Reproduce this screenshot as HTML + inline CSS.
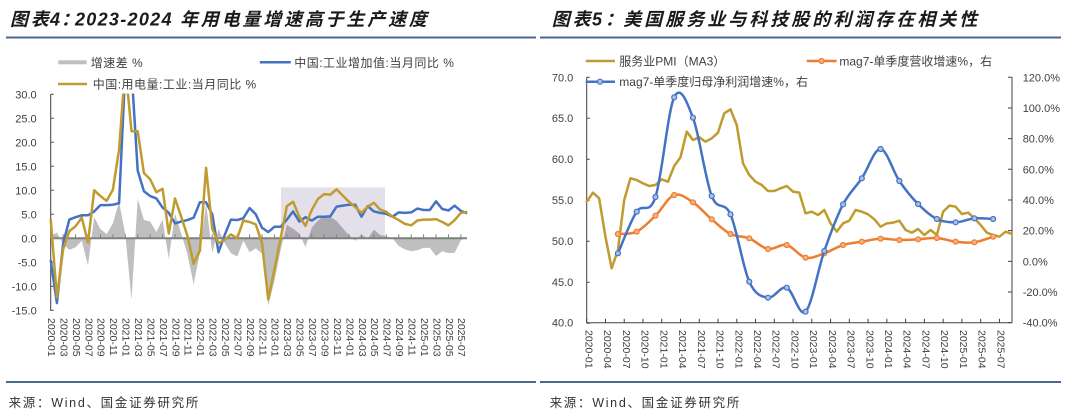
<!DOCTYPE html>
<html><head><meta charset="utf-8"><style>
html,body{margin:0;padding:0;background:#fff;overflow:hidden}
svg{display:block}
.t{font-family:"Liberation Sans","Noto Sans CJK SC",sans-serif;font-weight:bold;font-style:italic;font-size:18px;fill:#1a1a1a}
.lg{font-family:"Liberation Sans","Noto Sans CJK SC",sans-serif;font-size:12px;fill:#404040}
.ax{font-family:"Liberation Sans",sans-serif;font-size:11px;fill:#404040}
.xl{font-family:"Liberation Sans",sans-serif;font-size:10.5px;fill:#404040}
.src{font-family:"Liberation Sans","Noto Sans CJK SC",sans-serif;font-size:12.5px;fill:#333;letter-spacing:1.7px}
</style></head><body>
<svg width="1080" height="417" viewBox="0 0 1080 417" xmlns="http://www.w3.org/2000/svg">
<rect width="1080" height="417" fill="#fff"/>
<defs>
<clipPath id="cl"><rect x="45" y="93.5" width="430" height="225"/></clipPath>
</defs>

<!-- Titles -->
<text class="t" y="25.5"><tspan x="10" letter-spacing="2.8">图表</tspan><tspan x="50">4</tspan><tspan x="61">：</tspan><tspan x="75" letter-spacing="1.3">2023-2024</tspan><tspan x="180" letter-spacing="2.8">年用电量增速高于生产速度</tspan></text>
<text class="t" y="25.5"><tspan x="551.7" letter-spacing="2.8">图表</tspan><tspan x="592">5</tspan><tspan x="605">：</tspan><tspan x="623.3" letter-spacing="3">美国服务业与科技股的利润存在相关性</tspan></text>
<line x1="6" y1="37.5" x2="536" y2="37.5" stroke="#4d6a8e" stroke-width="2"/>
<line x1="540" y1="37.5" x2="1061" y2="37.5" stroke="#4d6a8e" stroke-width="2"/>
<line x1="6" y1="382" x2="536" y2="382" stroke="#4d6a8e" stroke-width="2"/>
<line x1="540" y1="382" x2="1061" y2="382" stroke="#4d6a8e" stroke-width="2"/>

<!-- LEFT CHART legend -->
<rect x="58.3" y="60.3" width="28.4" height="4" fill="#bfbfbf"/>
<text class="lg" x="90.7" y="67" letter-spacing="0.5">增速差 %</text>
<line x1="259.8" y1="62.3" x2="290.8" y2="62.3" stroke="#4472c4" stroke-width="2.5"/>
<text class="lg" x="294.2" y="67" letter-spacing="0.5">中国:工业增加值:当月同比 %</text>
<line x1="58" y1="84" x2="87" y2="84" stroke="#bf9b30" stroke-width="2.5"/>
<text class="lg" x="92.7" y="88.5" letter-spacing="0.5">中国:用电量:工业:当月同比 %</text>

<!-- LEFT CHART y labels -->
<g class="ax" text-anchor="end">
<text x="36.7" y="98.3">30.0</text>
<text x="36.7" y="122.3">25.0</text>
<text x="36.7" y="146.3">20.0</text>
<text x="36.7" y="170.3">15.0</text>
<text x="36.7" y="194.3">10.0</text>
<text x="36.7" y="218.3">5.0</text>
<text x="36.7" y="242.3">0.0</text>
<text x="36.7" y="266.3">-5.0</text>
<text x="36.7" y="290.3">-10.0</text>
<text x="36.7" y="314.3">-15.0</text>
</g>
<line x1="50.7" y1="94.3" x2="50.7" y2="310.8" stroke="#404040" stroke-width="1"/>
<line x1="52.2" y1="93.8" x2="52.2" y2="311" stroke="#404040" stroke-width="3" stroke-dasharray="1,23"/>

<!-- gray area -->
<g transform="translate(50.7,238.3) scale(6.215,-4.8)">
<polygon fill="#bfbfbf" points="0,0 0,0.5 1,1.2 2,-1.2 3,-2.4 4,-1.9 5,-0.5 6,-5.7 7,4.4 8,1.9 9,0.9 10,3.1 11,7.6 12,0.9 13,-12.8 14,8.2 15,3.8 16,3.5 17,1.3 18,3.9 19,-4.3 20,5.2 21,1 22,-3.3 23,-9.6 24,-3 25,7.2 26,-3 27,1.9 28,-1 29,-3.1 30,-3.8 31,-0.5 32,-2.9 33,-2.1 34,-3.2 35,-14 36,-8.9 37,-2.4 38,2.8 39,2 40,1 41,-1.8 42,2.2 43,3.7 44,4.7 45,4.5 46,3.6 47,2.1 48,0.6 49,-0.5 50,0.8 51,-0.1 52,1.8 53,0.7 54,0.4 55,0 56,-1.6 57,-2.3 58,-2.7 59,-2.5 60,-2 61,-2 62,-3.7 63,-2.7 64,-3.1 65,-3 66,-0.4 67,0.3 67,0"/>
</g>
<rect x="281" y="187.3" width="104" height="51" fill="#e4e0ea" style="mix-blend-mode:multiply"/>
<!-- zero axis -->
<line x1="50.7" y1="238.3" x2="467" y2="238.3" stroke="#808080" stroke-width="2"/>
<line x1="50.2" y1="236.3" x2="468" y2="236.3" stroke="#808080" stroke-width="4" stroke-dasharray="1,11.43"/>

<!-- lines -->
<g clip-path="url(#cl)">
<g transform="translate(50.7,238.3) scale(6.215,-4.8)">
<polyline fill="none" stroke="#4472c4" stroke-width="2.5" vector-effect="non-scaling-stroke" stroke-linejoin="round" points="0,-4.5 1,-13.5 2,-1.1 3,3.9 4,4.4 5,4.8 6,4.8 7,5.6 8,6.9 9,6.9 10,7 11,7.3 12,35.1 13,35.1 14,14.1 15,9.8 16,8.8 17,8.3 18,6.4 19,5.3 20,3.1 21,3.5 22,3.8 23,4.3 24,7.5 25,7.5 26,5 27,-2.9 28,0.7 29,3.9 30,3.8 31,4.2 32,6.3 33,5 34,2.2 35,1.3 36,2.4 37,2.4 38,3.9 39,5.6 40,3.5 41,4.4 42,3.7 43,4.5 44,4.5 45,4.6 46,6.6 47,6.8 48,7 49,7 50,4.5 51,6.7 52,5.6 53,5.3 54,5.1 55,4.5 56,5.4 57,5.3 58,5.4 59,6.2 60,5.9 61,5.9 62,7.7 63,6.1 64,5.8 65,6.8 66,5.7 67,5.2"/>
<polyline fill="none" stroke="#bf9b30" stroke-width="2.5" vector-effect="non-scaling-stroke" stroke-linejoin="round" points="0,4 1,-12.3 2,-2.3 3,1.5 4,2.5 5,4.3 6,-0.9 7,10 8,8.8 9,7.8 10,10.1 11,18.4 12,36 13,22.3 14,22.3 15,13.6 16,12.3 17,9.6 18,10.3 19,1 20,8.3 21,4.5 22,0.5 23,-5.3 24,-2.6 25,14.7 26,2 27,-1 28,-0.3 29,0.8 30,0 31,3.7 32,3.4 33,2.9 34,-1 35,-12.7 36,-6.5 37,0 38,6.7 39,7.6 40,4.5 41,2.6 42,5.9 43,8.2 44,9.2 45,9.1 46,10.2 47,8.9 48,7.6 49,6.5 50,5.3 51,6.6 52,7.4 53,6 54,5.5 55,4.5 56,3.8 57,3 58,2.7 59,3.7 60,3.9 61,3.9 62,4 63,3.4 64,2.7 65,3.8 66,5.3 67,5.5"/>
</g>
</g>

<!-- LEFT x labels -->
<g class="xl">
<text transform="translate(48,318) rotate(90)">2020-01</text>
<text transform="translate(60.4,318) rotate(90)">2020-03</text>
<text transform="translate(72.9,318) rotate(90)">2020-05</text>
<text transform="translate(85.3,318) rotate(90)">2020-07</text>
<text transform="translate(97.7,318) rotate(90)">2020-09</text>
<text transform="translate(110.2,318) rotate(90)">2020-11</text>
<text transform="translate(122.6,318) rotate(90)">2021-01</text>
<text transform="translate(135,318) rotate(90)">2021-03</text>
<text transform="translate(147.4,318) rotate(90)">2021-05</text>
<text transform="translate(159.9,318) rotate(90)">2021-07</text>
<text transform="translate(172.3,318) rotate(90)">2021-09</text>
<text transform="translate(184.7,318) rotate(90)">2021-11</text>
<text transform="translate(197.2,318) rotate(90)">2022-01</text>
<text transform="translate(209.6,318) rotate(90)">2022-03</text>
<text transform="translate(222,318) rotate(90)">2022-05</text>
<text transform="translate(234.5,318) rotate(90)">2022-07</text>
<text transform="translate(246.9,318) rotate(90)">2022-09</text>
<text transform="translate(259.3,318) rotate(90)">2022-11</text>
<text transform="translate(271.7,318) rotate(90)">2023-01</text>
<text transform="translate(284.2,318) rotate(90)">2023-03</text>
<text transform="translate(296.6,318) rotate(90)">2023-05</text>
<text transform="translate(309,318) rotate(90)">2023-07</text>
<text transform="translate(321.5,318) rotate(90)">2023-09</text>
<text transform="translate(333.9,318) rotate(90)">2023-11</text>
<text transform="translate(346.3,318) rotate(90)">2024-01</text>
<text transform="translate(358.8,318) rotate(90)">2024-03</text>
<text transform="translate(371.2,318) rotate(90)">2024-05</text>
<text transform="translate(383.6,318) rotate(90)">2024-07</text>
<text transform="translate(396,318) rotate(90)">2024-09</text>
<text transform="translate(408.5,318) rotate(90)">2024-11</text>
<text transform="translate(420.9,318) rotate(90)">2025-01</text>
<text transform="translate(433.3,318) rotate(90)">2025-03</text>
<text transform="translate(445.8,318) rotate(90)">2025-05</text>
<text transform="translate(458.2,318) rotate(90)">2025-07</text>
</g>

<!-- RIGHT CHART legend -->
<line x1="585.7" y1="61" x2="615" y2="61" stroke="#bf9b30" stroke-width="2.5"/>
<text class="lg" x="619.3" y="65.5">服务业PMI（MA3）</text>
<line x1="806.7" y1="61" x2="836.6" y2="61" stroke="#ed7d31" stroke-width="2.5"/>
<circle cx="821.6" cy="61" r="2.5" fill="#f4b183" stroke="#ed7d31" stroke-width="1.2"/>
<text class="lg" x="839.4" y="65.5">mag7-单季度营收增速%，右</text>

<!-- RIGHT CHART axes -->
<g class="ax" text-anchor="end">
<text x="573.3" y="81.3">70.0</text>
<text x="573.3" y="122.2">65.0</text>
<text x="573.3" y="163.1">60.0</text>
<text x="573.3" y="204">55.0</text>
<text x="573.3" y="244.9">50.0</text>
<text x="573.3" y="285.8">45.0</text>
<text x="573.3" y="326.7">40.0</text>
</g>
<g class="ax">
<text x="1022.7" y="81.3">120.0%</text>
<text x="1022.7" y="112">100.0%</text>
<text x="1022.7" y="142.6">80.0%</text>
<text x="1022.7" y="173.3">60.0%</text>
<text x="1022.7" y="204">40.0%</text>
<text x="1022.7" y="234.7">20.0%</text>
<text x="1022.7" y="265.3">0.0%</text>
<text x="1022.7" y="296">-20.0%</text>
<text x="1022.7" y="326.7">-40.0%</text>
</g>
<line x1="586.7" y1="77.3" x2="586.7" y2="322.7" stroke="#404040" stroke-width="1"/>
<line x1="1012" y1="77.3" x2="1012" y2="322.7" stroke="#404040" stroke-width="1"/>
<line x1="586.7" y1="322.7" x2="1012" y2="322.7" stroke="#404040" stroke-width="1"/>
<line x1="588.2" y1="76.8" x2="588.2" y2="324" stroke="#404040" stroke-width="3" stroke-dasharray="1,40"/>
<line x1="1010" y1="76.8" x2="1010" y2="324" stroke="#404040" stroke-width="4" stroke-dasharray="1,29.67"/>
<line x1="586.2" y1="320.7" x2="1001" y2="320.7" stroke="#404040" stroke-width="4" stroke-dasharray="1,17.76"/>

<!-- RIGHT CHART series (zoomed coords) -->
<g transform="translate(540,60) scale(0.333333)">
<polyline fill="none" stroke="#bf9b30" stroke-width="7.5" stroke-linejoin="round" stroke-linecap="round" points="140,425 158.8,398 177.5,415 196.3,530 215,625 233.8,570 252.6,420 271.3,355 290.1,360 308.8,370 327.6,378 346.4,375 365.1,358 383.9,365 402.6,318 421.4,292 440.2,215 458.9,240 477.7,232 496.4,245 515.2,235 534,218 552.7,160 571.5,148 590.2,195 609,310 627.8,345 646.5,365 665.3,375 684,393 702.8,393 721.6,385 740.3,378 759.1,395 777.8,398 796.6,460 815.4,455 834.1,465 852.9,450 871.6,490 890.4,515 909.2,490 927.9,482 946.7,450 965.4,455 984.2,463 1003,478 1021.7,500 1040.5,490 1059.2,488 1078,482 1096.8,510 1115.5,518 1134.3,507 1153,525 1171.8,510 1190.6,525 1209.3,455 1228.1,437 1246.8,440 1265.6,462 1284.4,458 1303.1,475 1321.9,495 1340.6,518 1359.4,525 1378.2,530 1396.9,515 1415.7,522"/>
<path fill="none" stroke="#ed7d31" stroke-width="7.5" d="M233.8,522 C243.2,520.8 271.3,524.2 290.1,515 S327.6,485.3 346.4,467 S383.8,411.7 402.6,405 S440.1,414.8 458.9,427 S496.4,462.2 515.2,478 S552.7,512.5 571.5,522 S609,527.5 627.8,535 S665.2,563.7 684,567 S721.5,550.7 740.3,555 S777.8,588.8 796.6,593 S834.1,586.3 852.9,580 S890.4,560.8 909.2,555 S946.6,548.2 965.4,545 S1002.9,536.8 1021.7,536 S1059.2,539.7 1078,540 S1115.5,539 1134.3,538 S1171.8,532.8 1190.6,534 S1228,542.8 1246.8,545 S1284.3,549.5 1303.1,547 S1350,532.8 1359.4,530"/>
<g fill="#f4b183" stroke="#ed7d31" stroke-width="3.6">
<circle cx="233.8" cy="522" r="7.5"/><circle cx="290.1" cy="515" r="7.5"/><circle cx="346.4" cy="467" r="7.5"/><circle cx="402.6" cy="405" r="7.5"/><circle cx="458.9" cy="427" r="7.5"/><circle cx="515.2" cy="478" r="7.5"/><circle cx="571.5" cy="522" r="7.5"/><circle cx="627.8" cy="535" r="7.5"/><circle cx="684" cy="567" r="7.5"/><circle cx="740.3" cy="555" r="7.5"/><circle cx="796.6" cy="593" r="7.5"/><circle cx="852.9" cy="580" r="7.5"/><circle cx="909.2" cy="555" r="7.5"/><circle cx="965.4" cy="545" r="7.5"/><circle cx="1021.7" cy="536" r="7.5"/><circle cx="1078" cy="540" r="7.5"/><circle cx="1134.3" cy="538" r="7.5"/><circle cx="1190.6" cy="534" r="7.5"/><circle cx="1246.8" cy="545" r="7.5"/><circle cx="1303.1" cy="547" r="7.5"/><circle cx="1359.4" cy="530" r="7.5"/>
</g>
<path fill="none" stroke="#4472c4" stroke-width="7.5" d="M233.8,580 C243.2,559.2 271.3,483.2 290.1,455 S327.6,468.2 346.4,411 S383.8,151.7 402.6,112 S440.1,123.7 458.9,173 S496.4,359.7 515.2,408 S552.7,420.2 571.5,463 S609,623.3 627.8,665 S665.2,710 684,713 S721.5,676 740.3,683 S777.8,773.3 796.6,755 S834.1,626.7 852.9,573 S890.4,469.3 909.2,433 S946.6,382.7 965.4,355 S1002.9,265.7 1021.7,267 S1059.2,335.5 1078,363 S1115.5,413 1134.3,432 S1171.8,467.8 1190.6,477 S1228,487.3 1246.8,487 S1284.3,476.7 1303.1,475 S1350,476.7 1359.4,477"/>
<g fill="#a9c0ea" stroke="#4472c4" stroke-width="3.6">
<circle cx="233.8" cy="580" r="7.5"/><circle cx="290.1" cy="455" r="7.5"/><circle cx="346.4" cy="411" r="7.5"/><circle cx="402.6" cy="112" r="7.5"/><circle cx="458.9" cy="173" r="7.5"/><circle cx="515.2" cy="408" r="7.5"/><circle cx="571.5" cy="463" r="7.5"/><circle cx="627.8" cy="665" r="7.5"/><circle cx="684" cy="713" r="7.5"/><circle cx="740.3" cy="683" r="7.5"/><circle cx="796.6" cy="755" r="7.5"/><circle cx="852.9" cy="573" r="7.5"/><circle cx="909.2" cy="433" r="7.5"/><circle cx="965.4" cy="355" r="7.5"/><circle cx="1021.7" cy="267" r="7.5"/><circle cx="1078" cy="363" r="7.5"/><circle cx="1134.3" cy="432" r="7.5"/><circle cx="1190.6" cy="477" r="7.5"/><circle cx="1246.8" cy="487" r="7.5"/><circle cx="1303.1" cy="475" r="7.5"/><circle cx="1359.4" cy="477" r="7.5"/>
</g>
</g>

<!-- blue legend (drawn over axis) -->
<line x1="585.7" y1="81.7" x2="615" y2="81.7" stroke="#4472c4" stroke-width="2.5"/>
<circle cx="600" cy="81.7" r="2.5" fill="#a9c0ea" stroke="#4472c4" stroke-width="1.2"/>
<text class="lg" x="619.3" y="86">mag7-单季度归母净利润增速%，右</text>

<!-- RIGHT x labels -->
<g class="xl">
<text transform="translate(585.5,330) rotate(90)">2020-01</text>
<text transform="translate(604.2,330) rotate(90)">2020-04</text>
<text transform="translate(622.9,330) rotate(90)">2020-07</text>
<text transform="translate(641.7,330) rotate(90)">2020-10</text>
<text transform="translate(660.4,330) rotate(90)">2021-01</text>
<text transform="translate(679.1,330) rotate(90)">2021-04</text>
<text transform="translate(697.8,330) rotate(90)">2021-07</text>
<text transform="translate(716.5,330) rotate(90)">2021-10</text>
<text transform="translate(735.3,330) rotate(90)">2022-01</text>
<text transform="translate(754,330) rotate(90)">2022-04</text>
<text transform="translate(772.7,330) rotate(90)">2022-07</text>
<text transform="translate(791.4,330) rotate(90)">2022-10</text>
<text transform="translate(810.1,330) rotate(90)">2023-01</text>
<text transform="translate(828.9,330) rotate(90)">2023-04</text>
<text transform="translate(847.6,330) rotate(90)">2023-07</text>
<text transform="translate(866.3,330) rotate(90)">2023-10</text>
<text transform="translate(885,330) rotate(90)">2024-01</text>
<text transform="translate(903.7,330) rotate(90)">2024-04</text>
<text transform="translate(922.5,330) rotate(90)">2024-07</text>
<text transform="translate(941.2,330) rotate(90)">2024-10</text>
<text transform="translate(959.9,330) rotate(90)">2025-01</text>
<text transform="translate(978.6,330) rotate(90)">2025-04</text>
<text transform="translate(997.3,330) rotate(90)">2025-07</text>
</g>

<!-- sources -->
<text class="src" x="8.6" y="407">来源：Wind、国金证券研究所</text>
<text class="src" x="549.6" y="407">来源：Wind、国金证券研究所</text>
</svg>
</body></html>
